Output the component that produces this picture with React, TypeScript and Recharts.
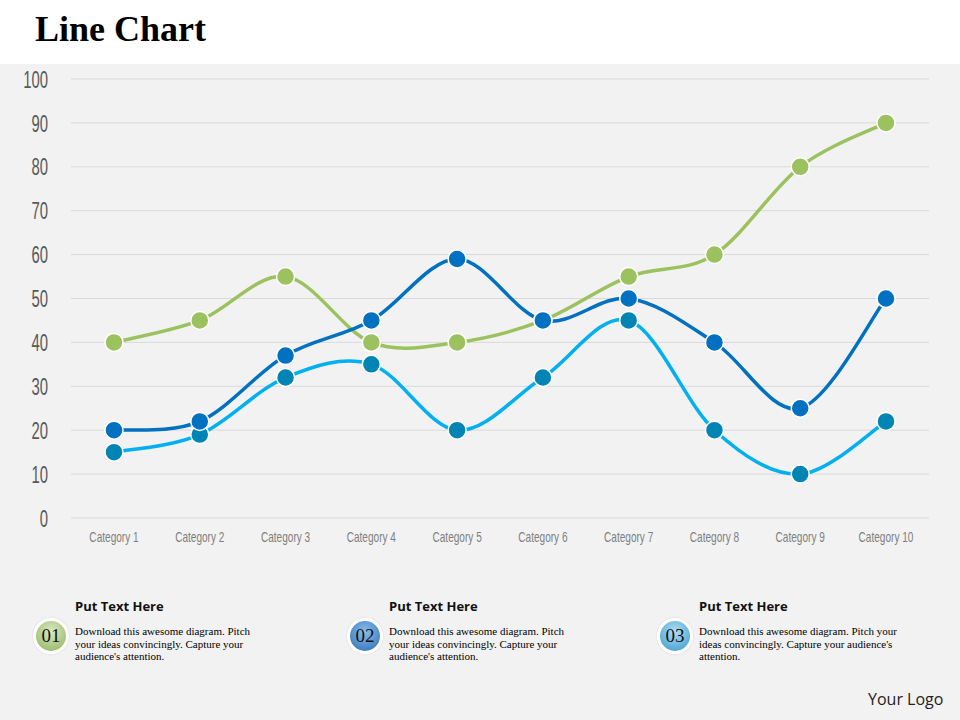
import { LineChart, Line, XAxis, YAxis, CartesianGrid } from "recharts";

const CATEGORIES = ["Category 1","Category 2","Category 3","Category 4","Category 5","Category 6","Category 7","Category 8","Category 9","Category 10"];
const SERIES_GREEN = [40, 45, 55, 40, 40, 45, 55, 60, 80, 90];
const SERIES_DARK = [20, 22, 37, 45, 59, 45, 50, 40, 25, 50];
const SERIES_LIGHT = [15, 19, 32, 35, 20, 32, 45, 20, 10, 22];
const Y_TICKS = [0, 10, 20, 30, 40, 50, 60, 70, 80, 90, 100];

const ITEMS = [
  { num: "01", title: "Put Text Here", text: "Download this awesome diagram. Pitch your ideas convincingly. Capture your audience's attention.", left: 33, textWidth: 185, grad: ["#dbe9c2", "#8db25a"] },
  { num: "02", title: "Put Text Here", text: "Download this awesome diagram. Pitch your ideas convincingly. Capture your audience's attention.", left: 347, textWidth: 185, grad: ["#8cbdea", "#2a6cb6"] },
  { num: "03", title: "Put Text Here", text: "Download this awesome diagram. Pitch your ideas convincingly. Capture your audience's attention.", left: 657, textWidth: 215, grad: ["#b3def3", "#3298cc"] },
];

const data = CATEGORIES.map((c, i) => ({
  name: c,
  green: SERIES_GREEN[i],
  dark: SERIES_DARK[i],
  light: SERIES_LIGHT[i],
}));

// Excel-like smoothing (uniform Catmull-Rom)
function smoothCurve(context: any) {
  let pts: number[][] = [];
  return {
    areaStart() {},
    areaEnd() {},
    lineStart() { pts = []; },
    point(x: number, y: number) { pts.push([+x, +y]); },
    lineEnd() {
      if (!pts.length) return;
      context.moveTo(pts[0][0], pts[0][1]);
      for (let i = 0; i < pts.length - 1; i++) {
        const p0 = pts[i - 1] || pts[i];
        const p1 = pts[i];
        const p2 = pts[i + 1];
        const p3 = pts[i + 2] || p2;
        context.bezierCurveTo(
          p1[0] + (p2[0] - p0[0]) / 6, p1[1] + (p2[1] - p0[1]) / 6,
          p2[0] - (p3[0] - p1[0]) / 6, p2[1] - (p3[1] - p1[1]) / 6,
          p2[0], p2[1],
        );
      }
    },
  };
}

const axisFont = "'Liberation Sans', Arial, sans-serif";

// condensed look for the axis labels
const YTick = ({ x, y, payload }: any) => (
  <g transform={`translate(${x},${y}) scale(0.62,1)`}>
    <text textAnchor="end" dy="0.36em" fontFamily={axisFont} fontSize={24} fill="#595959">{payload.value}</text>
  </g>
);

const XTick = ({ x, y, payload }: any) => (
  <g transform={`translate(${x},${y}) scale(0.72,1)`}>
    <text textAnchor="middle" dy="0.71em" fontFamily={axisFont} fontSize={14} fill="#7f7f7f">{payload.value}</text>
  </g>
);

export default function App() {
  return (
    <div style={{ position: "absolute", left: 0, top: 0, width: 960, height: 720, background: "#f2f2f2", overflow: "hidden" }}>
      <div style={{ position: "absolute", left: 0, top: 0, width: 960, height: 64, background: "#ffffff" }} />
      <div style={{ position: "absolute", left: 35, top: 8, fontFamily: "'Liberation Serif', serif", fontWeight: "bold", fontSize: 36, color: "#000" }}>
        Line Chart
      </div>

      <div style={{ position: "absolute", left: 0, top: 64 }}>
        <LineChart width={960} height={500} data={data} margin={{ top: 15, right: 31, bottom: 0, left: 0 }}>
          <CartesianGrid vertical={false} stroke="#d9d9d9" />
          <XAxis
            dataKey="name"
            interval={0}
            height={46}
            padding={{ left: 43, right: 43 }}
            axisLine={false}
            tickLine={false}
            tickSize={0}
            tickMargin={14}
            tick={<XTick />}
          />
          <YAxis
            domain={[0, 100]}
            ticks={Y_TICKS}
            width={71}
            axisLine={false}
            tickLine={false}
            tickSize={0}
            tickMargin={23}
            tick={<YTick />}
          />
          <Line dataKey="green" type={smoothCurve as any} stroke="#9bc25f" strokeWidth={3.5}
            dot={{ r: 9, fill: "#9bc25f", stroke: "#ffffff", strokeWidth: 1.5 }} isAnimationActive={false} />
          <Line dataKey="light" type={smoothCurve as any} stroke="#00b0f0" strokeWidth={3.5}
            dot={{ r: 9, fill: "#0084b4", stroke: "#ffffff", strokeWidth: 1.5 }} isAnimationActive={false} />
          <Line dataKey="dark" type={smoothCurve as any} stroke="#0070c0" strokeWidth={3.5}
            dot={{ r: 9, fill: "#0070c0", stroke: "#ffffff", strokeWidth: 1.5 }} isAnimationActive={false} />
        </LineChart>
      </div>

      {ITEMS.map((it) => (
        <div key={it.num}>
          <div style={{
            position: "absolute", left: it.left, top: 618, width: 30, height: 30, borderRadius: "50%",
            border: "3px solid #ffffff", boxShadow: "0 0 2px rgba(0,0,0,0.15)",
            background: `radial-gradient(circle at 50% 35%, ${it.grad[0]} 0%, ${it.grad[1]} 100%)`,
            display: "flex", alignItems: "center", justifyContent: "center",
            fontFamily: "'Liberation Serif', serif", fontSize: 19, color: "#111",
          }}>
            {it.num}
          </div>
          <div style={{ position: "absolute", left: it.left + 42, top: 597, fontFamily: "'Open Sans', sans-serif", fontWeight: "bold", fontSize: 13, color: "#111" }}>
            {it.title}
          </div>
          <div style={{ position: "absolute", left: it.left + 42, top: 625, width: it.textWidth, fontFamily: "'Liberation Serif', serif", fontSize: 11, lineHeight: "12.5px", color: "#000" }}>
            {it.text}
          </div>
        </div>
      ))}

      <div style={{ position: "absolute", left: 868, top: 688, fontFamily: "'Open Sans', sans-serif", fontSize: 16, color: "#222" }}>
        Your Logo
      </div>
    </div>
  );
}
